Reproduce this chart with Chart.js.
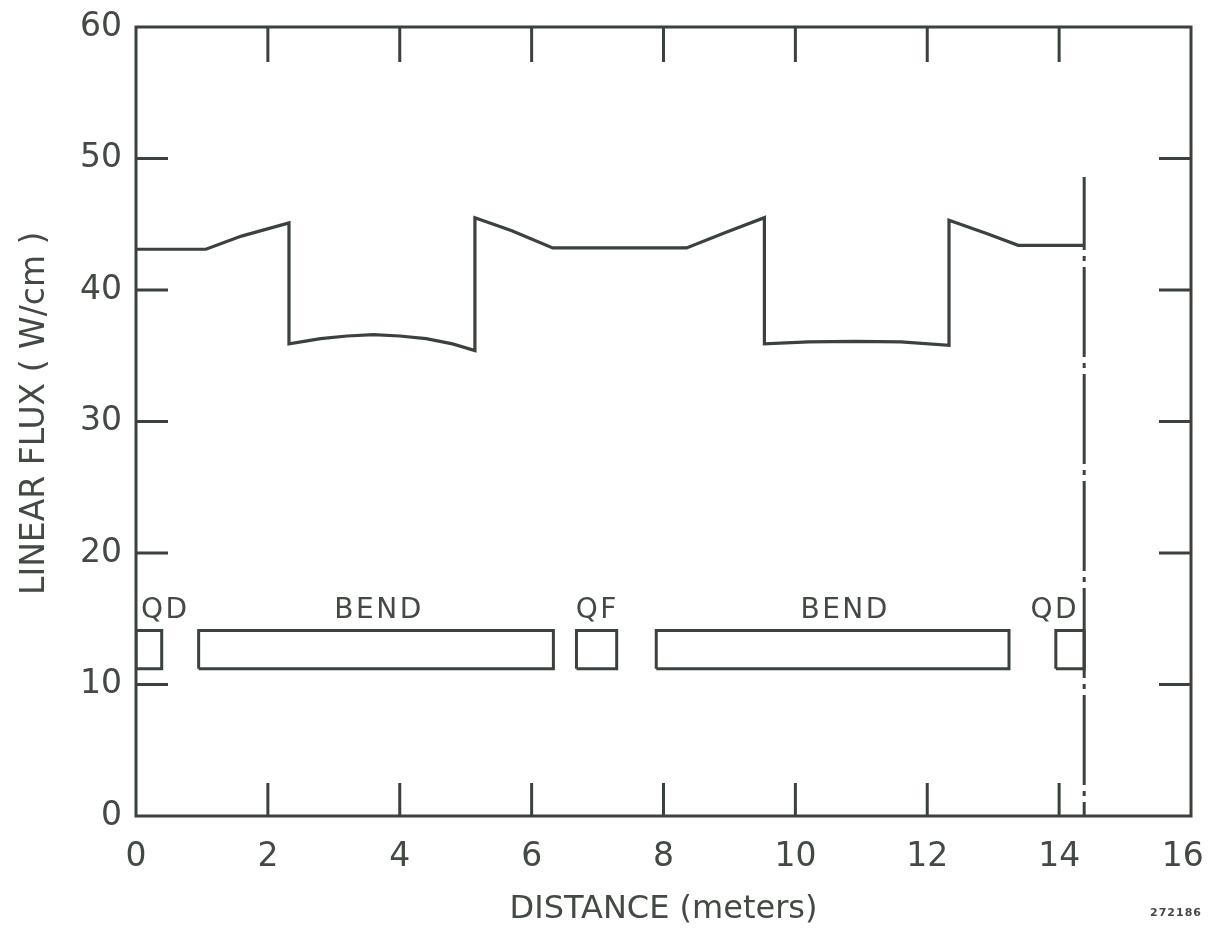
<!DOCTYPE html>
<html>
<head>
<meta charset="utf-8">
<script src="https://cdn.jsdelivr.net/npm/chart.js@4/dist/chart.umd.min.js"></script>
<style>
  html, body { margin: 0; padding: 0; background: #ffffff; }
  #wrap { width: 1208px; height: 929px; position: relative; }
</style>
</head>
<body>
<div id="wrap"><canvas id="fluxChart" width="1208" height="929"></canvas></div>
<script>
// flux profile along the half cell (meters, W/cm)
const distance = [0, 1.06, 1.6, 2.32, 2.32, 2.8, 3.2, 3.6, 4.0, 4.4, 4.8, 5.14, 5.14, 5.7, 6.32, 8.35, 8.95, 9.53, 9.53, 10.2, 10.9, 11.6, 12.33, 12.33, 12.9, 13.38, 14.38];
const flux = [43.1, 43.1, 44.1, 45.1, 35.9, 36.3, 36.5, 36.6, 36.5, 36.3, 35.9, 35.4, 45.5, 44.5, 43.2, 43.2, 44.4, 45.5, 35.9, 36.05, 36.1, 36.05, 35.8, 45.3, 44.3, 43.4, 43.4];

// magnet layout
const magnetNames = ['QD', 'BEND', 'QF', 'BEND', 'QD'];
const magnetStart = [0, 0.95, 6.68, 7.89, 13.95];
const magnetEnd = [0.39, 6.33, 7.29, 13.24, 14.38];
const magnetLabelX = [0.43, 3.67, 6.98, 10.74, 13.92];
const magnetBottom = 11.2;
const magnetTop = 14.1;
const magnetLabelY = 15.6;

// symmetry line
const symmetryX = 14.38;
const symmetryTop = 48.6;

const xTicks = [0, 2, 4, 6, 8, 10, 12, 14, 16];
const yTicks = [0, 10, 20, 30, 40, 50, 60];

const ink = '#3b423b';
const textInk = '#434943';
const fontFamily = '"DejaVu Sans", "Liberation Sans", sans-serif';

const fluxPoints = distance.map((d, i) => ({ x: d, y: flux[i] }));

const magnetSets = magnetNames.map((name, i) => ({
    label: name,
    data: [
        { x: magnetStart[i], y: magnetBottom },
        { x: magnetEnd[i], y: magnetBottom },
        { x: magnetEnd[i], y: magnetTop },
        { x: magnetStart[i], y: magnetTop },
        { x: magnetStart[i], y: magnetBottom }
    ],
    borderColor: ink,
    borderWidth: 3,
    pointRadius: 0,
    showLine: true,
    fill: false
}));

// frame, inward ticks and magnet names
const decorations = {
    id: 'decorations',
    afterDatasetsDraw(chart) {
        const ctx = chart.ctx;
        const area = chart.chartArea;
        const xs = chart.scales.x;
        const ys = chart.scales.y;
        ctx.save();
        ctx.strokeStyle = ink;
        ctx.lineWidth = 3;
        ctx.strokeRect(area.left, area.top, area.right - area.left, area.bottom - area.top);
        ctx.beginPath();
        xTicks.slice(1, -1).forEach(v => {
            const px = xs.getPixelForValue(v);
            ctx.moveTo(px, area.bottom);
            ctx.lineTo(px, area.bottom - 33);
            ctx.moveTo(px, area.top);
            ctx.lineTo(px, area.top + 35);
        });
        yTicks.slice(1, -1).forEach(v => {
            const py = ys.getPixelForValue(v);
            ctx.moveTo(area.left, py);
            ctx.lineTo(area.left + 32, py);
            ctx.moveTo(area.right, py);
            ctx.lineTo(area.right - 32, py);
        });
        ctx.stroke();

        ctx.fillStyle = textInk;
        ctx.font = '28px ' + fontFamily;
        ctx.letterSpacing = '2.5px';
        ctx.textAlign = 'center';
        ctx.textBaseline = 'middle';
        magnetNames.forEach((name, i) => {
            ctx.fillText(name, xs.getPixelForValue(magnetLabelX[i]) + 1, ys.getPixelForValue(magnetLabelY));
        });

        ctx.letterSpacing = '1px';
        ctx.font = 'bold 11px ' + fontFamily;
        ctx.fillText('272186', 1176, 913);
        ctx.restore();
    }
};

const ctx = document.getElementById('fluxChart').getContext('2d');
new Chart(ctx, {
    type: 'scatter',
    data: {
        datasets: [
            {
                label: 'Linear flux',
                data: fluxPoints,
                borderColor: ink,
                borderWidth: 3.2,
                pointRadius: 0,
                showLine: true,
                tension: 0,
                fill: false
            },
            {
                label: 'Symmetry',
                data: [{ x: symmetryX, y: symmetryTop }, { x: symmetryX, y: 0 }],
                borderColor: ink,
                borderWidth: 3,
                borderDash: [90, 6, 5, 6],
                borderDashOffset: 17,
                pointRadius: 0,
                showLine: true,
                fill: false
            },
            ...magnetSets
        ]
    },
    options: {
        responsive: false,
        animation: false,
        layout: { padding: { top: 27, right: 17, left: 0, bottom: 0 } },
        plugins: {
            legend: { display: false },
            tooltip: { enabled: false }
        },
        scales: {
            x: {
                type: 'linear',
                min: 0,
                max: 16,
                afterBuildTicks: scale => { scale.ticks = xTicks.map(v => ({ value: v })); },
                afterFit: scale => {
                    scale.height = 113;
                    scale.paddingLeft = 0;
                    scale.paddingRight = 0;
                },
                grid: { display: false, drawTicks: false },
                border: { display: false },
                ticks: {
                    color: textInk,
                    padding: 22,
                    font: { family: fontFamily, size: 33 },
                    maxRotation: 0,
                    autoSkip: false,
                    // keep the last label inside the page
                    callback: v => (v === 16 ? '16\u2002' : String(v))
                },
                title: {
                    display: true,
                    text: 'DISTANCE (meters)',
                    color: textInk,
                    font: { family: fontFamily, size: 32 },
                    padding: { top: 4, bottom: 0 }
                }
            },
            y: {
                type: 'linear',
                min: 0,
                max: 60,
                afterBuildTicks: scale => { scale.ticks = yTicks.map(v => ({ value: v })); },
                afterFit: scale => {
                    scale.width = 136;
                    scale.paddingTop = 0;
                    scale.paddingBottom = 0;
                },
                grid: { display: false, drawTicks: false },
                border: { display: false },
                ticks: {
                    color: textInk,
                    padding: 14,
                    font: { family: fontFamily, size: 33 }
                },
                title: {
                    display: true,
                    text: '\u2002LINEAR FLUX ( W/cm )',
                    color: textInk,
                    font: { family: fontFamily, size: 33 },
                    padding: { top: 16, bottom: 10 }
                }
            }
        }
    },
    plugins: [decorations]
});
</script>
</body>
</html>
